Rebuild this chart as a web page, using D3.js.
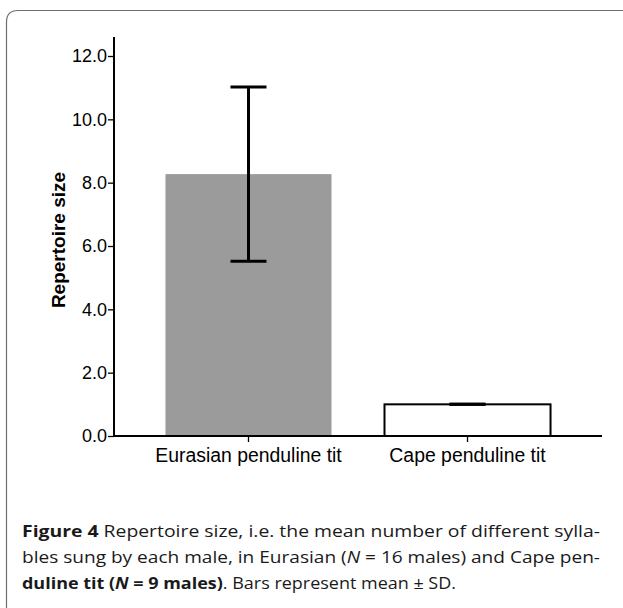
<!DOCTYPE html>
<html>
<head>
<meta charset="utf-8">
<script src="https://cdn.jsdelivr.net/npm/d3@7"></script>
<style>
  html, body { margin: 0; padding: 0; background: #fff; }
  svg { display: block; }
</style>
</head>
<body>
<div id="chart"></div>
<script>
( function () {
	'use strict';

	// ─── Data ────────────────────────────────────────────────────────────────
	var species = [ 'Eurasian penduline tit', 'Cape penduline tit' ];
	var means   = [ 8.27, 1.0 ];
	var sds     = [ 2.75, 0.0 ];
	var yTicks  = [ 0, 2, 4, 6, 8, 10, 12 ];

	var COLORS = {
		gray:  '#9b9b9b',
		white: '#ffffff',
		ink:   '#000000',
		frame: '#6f6f6f'
	};

	var width = 623, height = 608;
	var svg = d3.select( '#chart' ).append( 'svg' )
		.attr( 'width', width )
		.attr( 'height', height );

	// Frame with a rounded top-left corner.
	svg.append( 'path' )
		.attr( 'd', 'M6.5,' + ( height + 2 ) + ' L6.5,22 Q6.5,10.5 18,10.5 L' + ( width + 2 ) + ',10.5' )
		.attr( 'fill', 'none' )
		.attr( 'stroke', COLORS.frame )
		.attr( 'stroke-width', 1.2 );

	// ─── Scales ──────────────────────────────────────────────────────────────
	var x = d3.scaleBand()
		.domain( species )
		.range( [ 114, 602 ] )
		.paddingInner( 0.242 )
		.paddingOuter( 0.235 );

	var y = d3.scaleLinear()
		.domain( [ 0, 12.6 ] )
		.range( [ 436, 37 ] );

	var rows = species.map( function ( s, i ) {
		return { name: s, mean: means[ i ], sd: sds[ i ], i: i };
	} );

	// ─── Bars ────────────────────────────────────────────────────────────────
	svg.selectAll( 'rect.bar' )
		.data( rows )
		.join( 'rect' )
		.attr( 'class', 'bar' )
		.attr( 'x', function ( d ) { return x( d.name ); } )
		.attr( 'y', function ( d ) { return y( d.mean ); } )
		.attr( 'width', x.bandwidth() )
		.attr( 'height', function ( d ) { return y( 0 ) - y( d.mean ); } )
		.attr( 'fill', function ( d ) { return d.i === 0 ? COLORS.gray : COLORS.white; } )
		.attr( 'stroke', function ( d ) { return d.i === 0 ? 'none' : COLORS.ink; } )
		.attr( 'stroke-width', 2 );

	// ─── Error bars ──────────────────────────────────────────────────────────
	var capW = 36;
	var eb = svg.selectAll( 'g.err' ).data( rows ).join( 'g' ).attr( 'class', 'err' );
	eb.append( 'line' )
		.attr( 'x1', function ( d ) { return x( d.name ) + x.bandwidth() / 2; } )
		.attr( 'x2', function ( d ) { return x( d.name ) + x.bandwidth() / 2; } )
		.attr( 'y1', function ( d ) { return y( d.mean + d.sd ); } )
		.attr( 'y2', function ( d ) { return y( d.mean - d.sd ); } )
		.attr( 'stroke', COLORS.ink )
		.attr( 'stroke-width', 3 );
	[ 1, -1 ].forEach( function ( sign ) {
		eb.append( 'line' )
			.attr( 'x1', function ( d ) { return x( d.name ) + x.bandwidth() / 2 - capW / 2; } )
			.attr( 'x2', function ( d ) { return x( d.name ) + x.bandwidth() / 2 + capW / 2; } )
			.attr( 'y1', function ( d ) { return y( d.mean + sign * d.sd ); } )
			.attr( 'y2', function ( d ) { return y( d.mean + sign * d.sd ); } )
			.attr( 'stroke', COLORS.ink )
			.attr( 'stroke-width', 3 );
	} );

	// ─── Axes ────────────────────────────────────────────────────────────────
	svg.append( 'g' )
		.attr( 'transform', 'translate(114,0)' )
		.call( d3.axisLeft( y ).tickValues( yTicks ).tickSize( 6 ).tickPadding( 1 ).tickFormat( d3.format( '.1f' ) ) )
		.call( function ( s ) {
			s.select( '.domain' ).remove();
			s.selectAll( 'line' ).attr( 'stroke', COLORS.ink ).attr( 'stroke-width', 1.3 );
			s.selectAll( 'text' )
				.attr( 'fill', COLORS.ink )
				.style( 'font-family', 'Liberation Sans, Arial, sans-serif' )
				.style( 'font-size', '18px' );
		} );

	svg.append( 'g' )
		.attr( 'transform', 'translate(0,436)' )
		.call( d3.axisBottom( x ).tickSize( 6 ).tickPadding( 6 ) )
		.call( function ( s ) {
			s.select( '.domain' ).remove();
			s.selectAll( 'line' ).attr( 'stroke', COLORS.ink ).attr( 'stroke-width', 1.3 );
			s.selectAll( 'text' )
				.attr( 'fill', COLORS.ink )
				.style( 'font-family', 'Liberation Sans, Arial, sans-serif' )
				.style( 'font-size', '19.4px' );
		} );

	// Axis lines drawn on top.
	svg.append( 'line' )
		.attr( 'x1', 114 ).attr( 'x2', 114 )
		.attr( 'y1', y( 12.6 ) ).attr( 'y2', y( 0 ) + 1 )
		.attr( 'stroke', COLORS.ink ).attr( 'stroke-width', 2 );
	svg.append( 'line' )
		.attr( 'x1', 113 ).attr( 'x2', 602 )
		.attr( 'y1', y( 0 ) ).attr( 'y2', y( 0 ) )
		.attr( 'stroke', COLORS.ink ).attr( 'stroke-width', 2 );

	// Y label.
	svg.append( 'text' )
		.attr( 'transform', 'translate(64.5,240) rotate(-90)' )
		.attr( 'text-anchor', 'middle' )
		.style( 'font-family', 'Liberation Sans, Arial, sans-serif' )
		.style( 'font-size', '19px' )
		.style( 'font-weight', 'bold' )
		.text( 'Repertoire size' );

	// ─── Caption ─────────────────────────────────────────────────────────────
	var caption = [
		{ y: 537, w: 578, parts: [ [ 'Figure 4', 'b' ], [ ' Repertoire size, i.e. the mean number of different sylla-', 'r' ] ] },
		{ y: 563, w: 578, parts: [ [ 'bles sung by each male, in Eurasian (', 'r' ], [ 'N', 'i' ], [ ' = 16 males) and Cape pen-', 'r' ] ] },
		{ y: 589, w: 434, parts: [ [ 'duline tit (', 'b' ], [ 'N', 'bi' ], [ ' = 9 males)', 'b' ], [ '. Bars represent mean \u00b1 SD.', 'r' ] ] }
	];
	var cap = svg.append( 'g' )
		.style( 'font-family', 'Open Sans, Noto Sans, sans-serif' )
		.style( 'font-size', '16px' )
		.attr( 'fill', '#1a1a1a' );
	caption.forEach( function ( line ) {
		var t = cap.append( 'text' )
			.attr( 'x', 22 )
			.attr( 'y', line.y )
			.attr( 'textLength', line.w )
			.attr( 'lengthAdjust', 'spacingAndGlyphs' );
		line.parts.forEach( function ( p ) {
			t.append( 'tspan' )
				.style( 'font-weight', p[ 1 ].indexOf( 'b' ) >= 0 ? 'bold' : 'normal' )
				.style( 'font-style', p[ 1 ].indexOf( 'i' ) >= 0 ? 'italic' : 'normal' )
				.text( p[ 0 ] );
		} );
	} );
} )();
</script>
</body>
</html>
